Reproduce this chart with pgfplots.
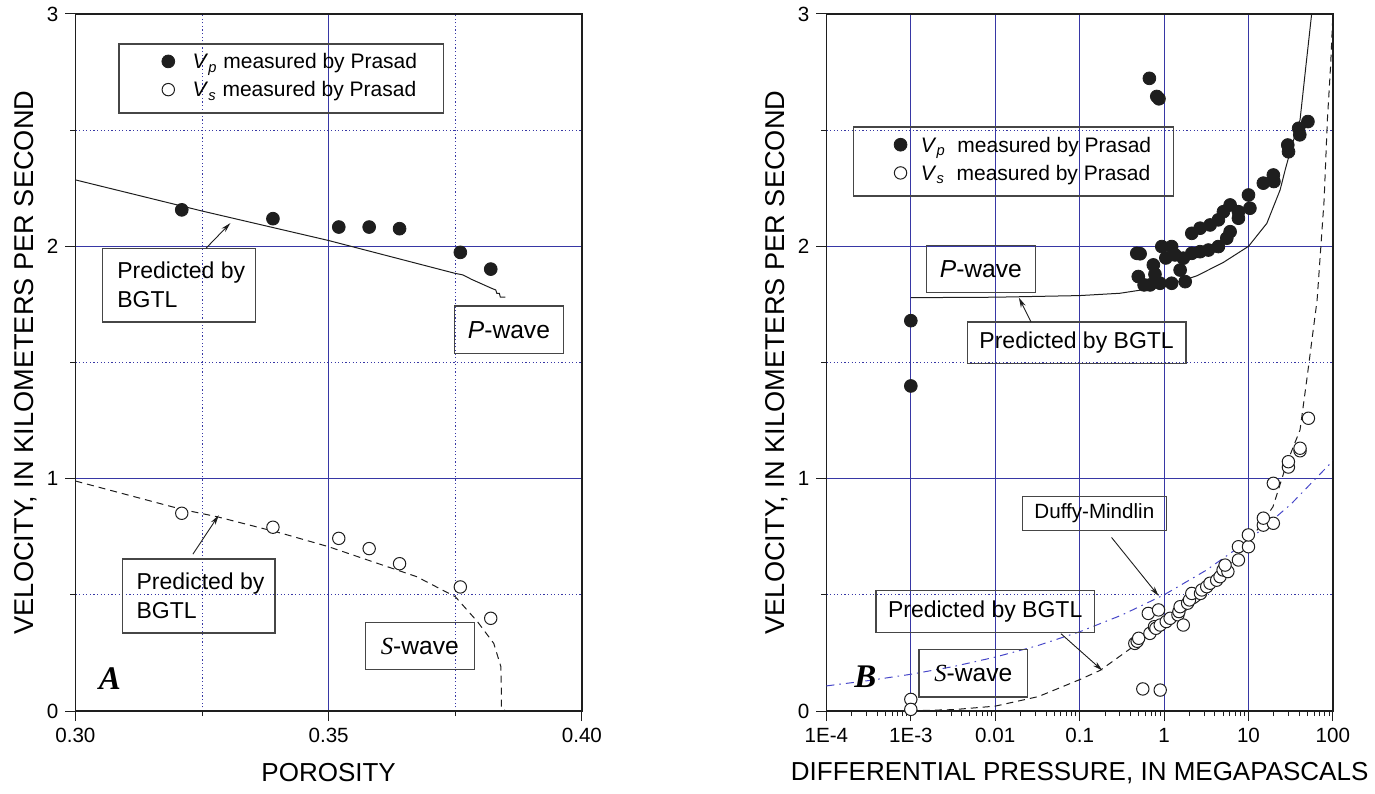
\documentclass[border=0pt]{standalone}
\usepackage{pgfplots}
\pgfplotsset{compat=1.18}
\usepackage{fontspec}
\setmainfont{Liberation Sans}
\newfontfamily\tnr{Liberation Serif}
\usetikzlibrary{arrows.meta}
\definecolor{gridblue}{RGB}{55,55,165}
\definecolor{dmblue}{RGB}{70,70,200}
\definecolor{ink}{RGB}{30,30,30}
\definecolor{boxc}{RGB}{70,70,70}

\tikzset{
  boxstyle/.style={boxc, line width=0.6pt},
  arr/.style={ink, line width=0.45pt, -{Stealth[length=5pt, width=2.6pt]}},
}
\pgfplotsset{
  pmark/.style={only marks, mark=*, mark size=3.2pt, mark options={fill=ink, draw=ink, line width=0.4pt}},
  smark/.style={only marks, mark=*, mark size=3.1pt, mark options={fill=white, draw=ink, line width=0.5pt}},
  common/.style={
    scale only axis, width=253.25pt, height=348.5pt,
    anchor=south west,
    clip mode=individual,
    axis line style={ink, line width=0.6pt},
    tick style={ink, line width=0.5pt},
    tick align=outside, tick pos=left,
    major tick length=5pt, minor tick length=2.5pt,
    major grid style={gridblue, line width=0.5pt},
    minor grid style={gridblue, line width=0.5pt, dash pattern=on 0.6pt off 1.2pt},
    ymin=0, ymax=3, ytick={0,1,2,3}, minor y tick num=1,
    ymajorgrids, yminorgrids, xmajorgrids,
    /pgf/number format/assume math mode=true,
    ticklabel style={font=\fontsize{10.3}{12}\selectfont},
    every axis x label/.style={at={(axis description cs:0.5,0)}, anchor=center, yshift=-31pt, font=\fontsize{13}{15}\selectfont},
    every axis y label/.style={at={([xshift=-25pt]axis description cs:0,0.5)}, rotate=90, anchor=center, font=\fontsize{13.6}{15}\selectfont},
    ylabel={VELOCITY, IN KILOMETERS PER SECOND},
    legend cell align=left,
    legend image code/.code={\path (-3.5pt,0pt) (12pt,0pt); \draw[##1] plot coordinates {(0pt,0.6pt)};},
  }
}

\begin{document}
\begin{tikzpicture}
\useasboundingbox (0,0) rectangle (687.5pt,396.5pt);

% ---------------- Panel A ----------------
\begin{axis}[common, at={(37.7pt,41pt)},
  xmin=0.30, xmax=0.40, xtick={0.30,0.35,0.40}, xticklabels={0.30,0.35,0.40},
  minor x tick num=1, xminorgrids,
  xlabel={POROSITY},
  legend style={at={(axis description cs:0.168,0.910)}, anchor=west, draw=none, fill=none,
    inner sep=0pt, row sep=5pt, nodes={inner sep=0pt}, font=\fontsize{10.5}{12}\selectfont},
]
\addplot[ink, line width=0.5pt, forget plot] coordinates {
 (0.300,2.286) (0.325,2.152) (0.350,2.025) (0.3749,1.884) (0.3765,1.877) (0.3782,1.858)
 (0.3821,1.820) (0.3830,1.812) (0.3832,1.798) (0.3837,1.798) (0.3839,1.781) (0.3849,1.781)};
\addplot[ink, line width=0.5pt, dash pattern=on 3.5pt off 2.5pt, forget plot] coordinates {
 (0.300,0.990) (0.321,0.868) (0.328,0.836) (0.3407,0.765) (0.350,0.707) (0.3674,0.578)
 (0.375,0.492) (0.3794,0.384) (0.3826,0.291) (0.3840,0.191) (0.3841,0.090) (0.3841,0.012) (0.3850,0.000)};
\addplot[pmark] coordinates {
 (0.321,2.157) (0.339,2.119) (0.352,2.083) (0.358,2.083) (0.364,2.076) (0.376,1.974) (0.382,1.902)};
\addlegendentry{\textit{V}\textsubscript{\textit{p}} measured by Prasad}
\addplot[smark] coordinates {
 (0.321,0.851) (0.339,0.791) (0.352,0.743) (0.358,0.699) (0.364,0.634) (0.376,0.534) (0.382,0.399)};
\addlegendentry{\textit{V}\textsubscript{\textit{s}} measured by Prasad}

\draw[boxstyle] (rel axis cs:0.086,0.858) rectangle (rel axis cs:0.727,0.957);
\draw[boxstyle] (rel axis cs:0.054,0.558) rectangle (rel axis cs:0.356,0.664);
\node[anchor=west, align=left, inner sep=0pt, font=\fontsize{11.5}{14.5}\selectfont] at (rel axis cs:0.082,0.611) {Predicted by\\BGTL};
\draw[arr] (rel axis cs:0.258,0.664) -- (rel axis cs:0.306,0.700);
\draw[boxstyle] (rel axis cs:0.749,0.513) rectangle (rel axis cs:0.963,0.581);
\node[font=\fontsize{12.3}{14}\selectfont] at (rel axis cs:0.856,0.547) {\textit{P}-wave};
\draw[boxstyle] (rel axis cs:0.093,0.112) rectangle (rel axis cs:0.394,0.218);
\node[anchor=west, align=left, inner sep=0pt, font=\fontsize{11.5}{14.5}\selectfont] at (rel axis cs:0.120,0.165) {Predicted by\\BGTL};
\draw[arr] (rel axis cs:0.232,0.225) -- (rel axis cs:0.283,0.281);
\draw[boxstyle] (rel axis cs:0.573,0.059) rectangle (rel axis cs:0.788,0.127);
\node[font=\fontsize{12.3}{14}\selectfont] at (rel axis cs:0.680,0.093) {{\tnr\itshape S}-wave};
\node[font={\tnr\bfseries\itshape\fontsize{16.5}{18}\selectfont}] at (rel axis cs:0.068,0.047) {A};
\end{axis}

% ---------------- Panel B ----------------
\begin{axis}[common, at={(413.2pt,41pt)},
  xmode=log, xmin=1e-4, xmax=100,
  xtick={1e-4,1e-3,1e-2,1e-1,1,10,100}, xticklabels={1E-4,1E-3,0.01,0.1,1,10,100},
  xlabel={DIFFERENTIAL PRESSURE, IN MEGAPASCALS},
  legend style={at={(axis description cs:0.131,0.7905)}, anchor=west, draw=none, fill=none,
    inner sep=0pt, row sep=5pt, nodes={inner sep=0pt}, font=\fontsize{10.5}{12}\selectfont},
  legend image code/.code={\path (-3.5pt,0pt) (10pt,0pt); \draw[#1] plot coordinates {(0pt,0.6pt)};},
]
% Duffy-Mindlin
\addplot[dmblue, line width=0.5pt, dash pattern=on 4pt off 2.5pt on 0.8pt off 2.5pt, forget plot] coordinates {
 (1e-4,0.108) (3.16e-4,0.131) (1e-3,0.158) (3.16e-3,0.191) (1e-2,0.232) (3.16e-2,0.281)
 (0.1,0.341) (0.316,0.413) (1,0.500) (3.16,0.606) (10,0.734) (31.6,0.889) (100,1.077)};
% BGTL P
\addplot[ink, line width=0.5pt, forget plot] coordinates {
 (0.001,1.779) (0.01,1.781) (0.1,1.788) (0.3,1.798) (1,1.827) (2.44,1.873) (5,1.930) (10,2.000)
 (16.5,2.099) (23.7,2.243) (27.2,2.329) (33,2.440) (40.8,2.544) (48,2.780) (56,3.000)};
% BGTL S
\addplot[ink, line width=0.5pt, dash pattern=on 3.5pt off 2.5pt, forget plot] coordinates {
 (0.001,0.001) (0.00325,0.006) (0.01,0.021) (0.0324,0.062) (0.1,0.135) (0.175,0.175) (0.43,0.277)
 (0.98,0.363) (2.67,0.478) (10.5,0.736) (19.5,0.879) (28.4,1.066) (40.8,1.210) (49,1.425)
 (65,1.769) (78.7,2.200) (86,2.544) (94,2.780) (100,3.000)};
\addplot[pmark] coordinates {
 (0.001,1.680) (0.001,1.399) (0.67,2.723) (0.82,2.645) (0.87,2.635)
 (0.475,1.970) (0.52,1.968) (0.746,1.920) (0.495,1.870) (0.683,1.834) (0.58,1.834) (0.897,1.841)
 (0.94,1.999) (1.23,1.999) (1.23,1.841) (1.78,1.848) (1.55,1.898) (1.69,1.949) (1.35,1.963)
 (1.05,1.950) (0.78,1.880) (2.13,1.970) (2.67,1.977) (3.35,1.984) (4.40,1.999) (5.53,2.035)
 (6.06,2.063) (2.13,2.056) (2.67,2.078) (3.51,2.092) (4.40,2.114) (5.05,2.149) (6.06,2.178)
 (7.6,2.149) (7.6,2.121) (10.4,2.164) (10.0,2.221) (15.0,2.272) (19.7,2.307) (20.0,2.279)
 (29.2,2.436) (29.8,2.407) (39.3,2.508) (40.5,2.480) (50.6,2.537)};
\addlegendentry{\textit{V}\textsubscript{\textit{p}}\ \ measured by Prasad}
\addplot[smark] coordinates {
 (0.001,0.050) (0.001,0.007) (0.56,0.095) (0.90,0.090)
 (0.45,0.291) (0.48,0.300) (0.50,0.313) (0.68,0.334) (0.77,0.363) (0.80,0.356) (0.65,0.420)
 (0.86,0.435) (0.90,0.370) (1.06,0.385) (1.18,0.399) (1.46,0.414) (1.69,0.370) (1.50,0.428)
 (1.55,0.449) (1.90,0.464) (2.00,0.478) (2.13,0.506) (2.70,0.506) (2.80,0.521) (3.20,0.535)
 (3.50,0.550) (4.20,0.563) (4.60,0.578) (5.00,0.607) (5.70,0.600) (5.28,0.628) (7.6,0.650)
 (7.6,0.707) (10,0.707) (9.97,0.758) (15,0.800) (19.7,0.808) (15,0.830) (19.7,0.980)
 (29.7,1.050) (29.7,1.073) (40.8,1.120) (40.8,1.131) (51.3,1.260)};
\addlegendentry{\textit{V}\textsubscript{\textit{s}}\ \ measured by Prasad}

\draw[boxstyle] (rel axis cs:0.054,0.739) rectangle (rel axis cs:0.685,0.838);
\draw[boxstyle] (rel axis cs:0.198,0.601) rectangle (rel axis cs:0.413,0.668);
\node[font=\fontsize{12.3}{14}\selectfont] at (rel axis cs:0.305,0.634) {\textit{P}-wave};
\draw[boxstyle] (rel axis cs:0.278,0.498) rectangle (rel axis cs:0.710,0.558);
\node[font=\fontsize{11.5}{14}\selectfont] at (rel axis cs:0.494,0.528) {Predicted by BGTL};
\draw[arr] (rel axis cs:0.404,0.558) -- (rel axis cs:0.380,0.593);
\draw[boxstyle] (rel axis cs:0.387,0.259) rectangle (rel axis cs:0.671,0.308);
\node[font=\fontsize{10.3}{12}\selectfont] at (rel axis cs:0.529,0.2835) {Duffy-Mindlin};
\draw[arr] (rel axis cs:0.563,0.249) -- (rel axis cs:0.656,0.165);
\draw[boxstyle] (rel axis cs:0.098,0.113) rectangle (rel axis cs:0.529,0.173);
\node[font=\fontsize{11.5}{14}\selectfont] at (rel axis cs:0.3135,0.143) {Predicted by BGTL};
\draw[arr] (rel axis cs:0.463,0.111) -- (rel axis cs:0.545,0.058);
\draw[boxstyle] (rel axis cs:0.183,0.020) rectangle (rel axis cs:0.397,0.088);
\node[font=\fontsize{12.3}{14}\selectfont] at (rel axis cs:0.290,0.054) {{\tnr\itshape S}-wave};
\node[font={\tnr\bfseries\itshape\fontsize{16.5}{18}\selectfont}] at (rel axis cs:0.077,0.049) {B};
\end{axis}
\end{tikzpicture}
\end{document}
